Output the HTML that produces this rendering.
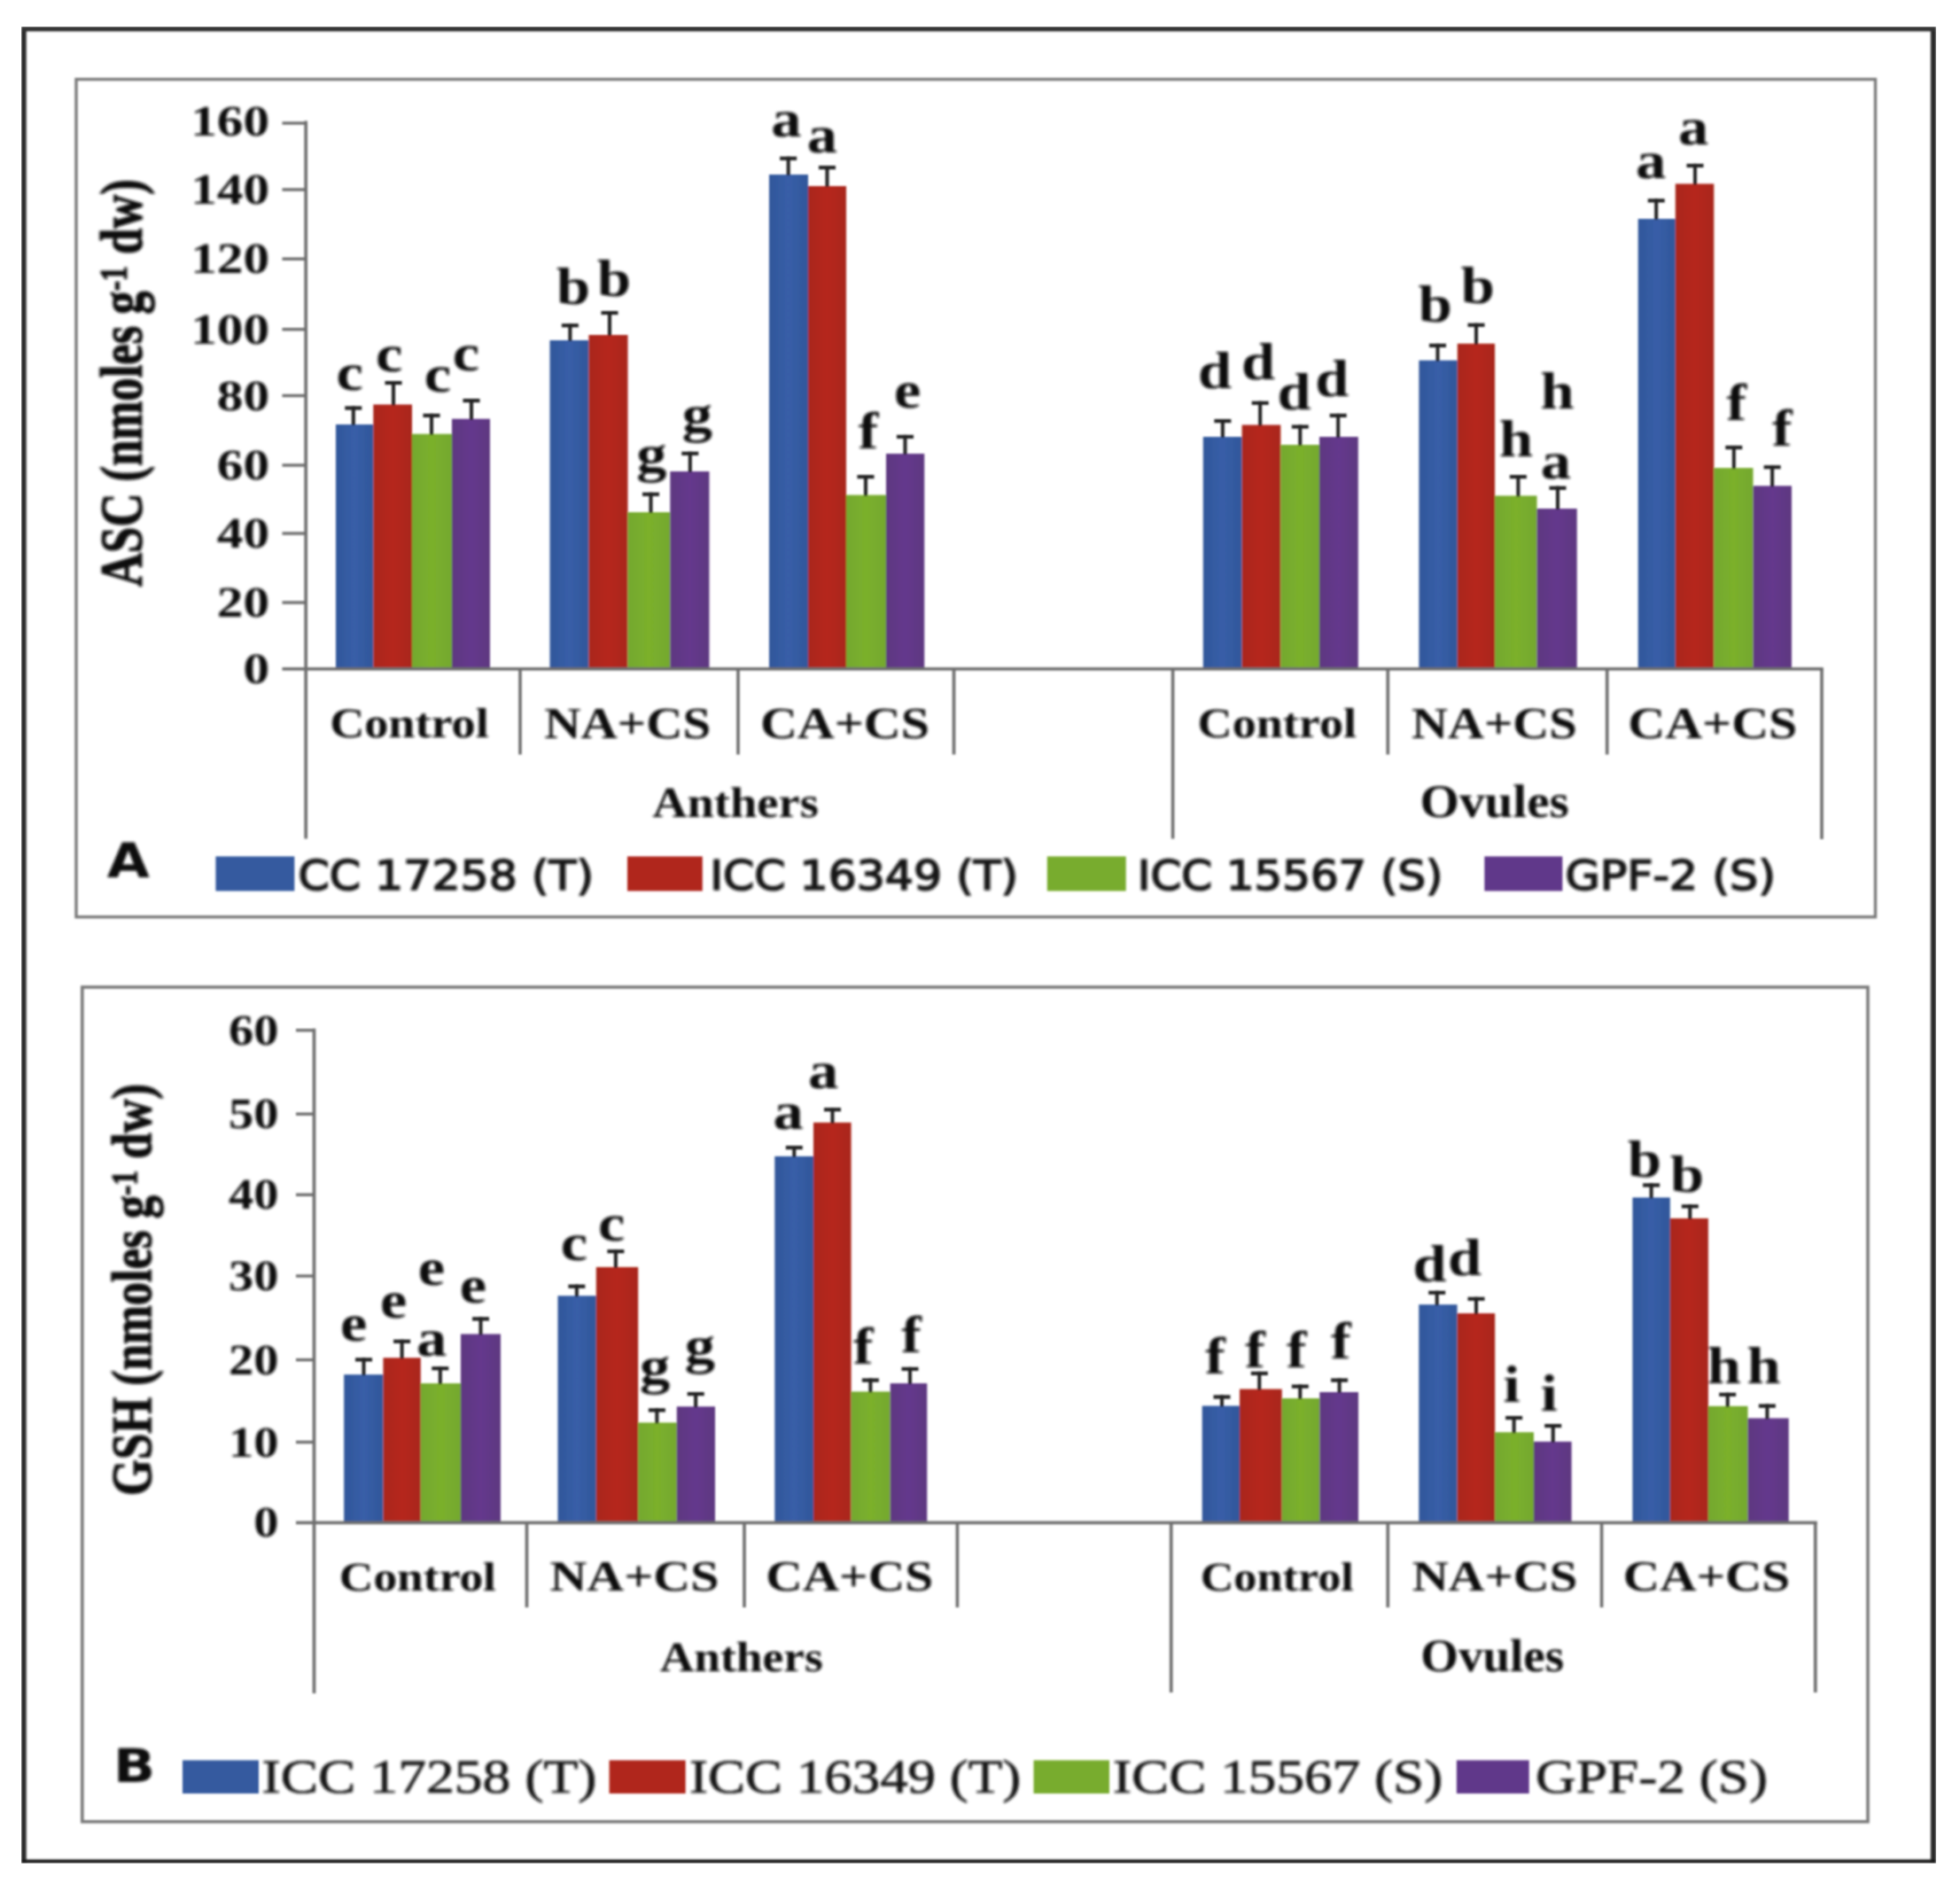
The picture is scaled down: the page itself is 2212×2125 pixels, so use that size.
<!DOCTYPE html>
<html lang="en"><head><meta charset="utf-8"><title>ASC and GSH in anthers and ovules</title>
<style>html,body{margin:0;padding:0;background:#fff}body{width:2212px;height:2125px;overflow:hidden}svg{display:block}</style>
</head><body>
<svg width="2212" height="2125" viewBox="0 0 2212 2125" text-rendering="geometricPrecision">
<defs>
<linearGradient id="gb" x1="0" x2="1" y1="0" y2="0"><stop offset="0" stop-color="#30579a"/><stop offset="0.5" stop-color="#385ea8"/><stop offset="1" stop-color="#30579a"/></linearGradient>
<linearGradient id="gr" x1="0" x2="1" y1="0" y2="0"><stop offset="0" stop-color="#a9271f"/><stop offset="0.5" stop-color="#b6251f"/><stop offset="1" stop-color="#a9271f"/></linearGradient>
<linearGradient id="gg" x1="0" x2="1" y1="0" y2="0"><stop offset="0" stop-color="#74a82f"/><stop offset="0.5" stop-color="#7bb02c"/><stop offset="1" stop-color="#74a82f"/></linearGradient>
<linearGradient id="gp" x1="0" x2="1" y1="0" y2="0"><stop offset="0" stop-color="#5d3780"/><stop offset="0.5" stop-color="#65398d"/><stop offset="1" stop-color="#5d3780"/></linearGradient>
<filter id="tsoft" x="0" y="0" width="2212" height="2125" filterUnits="userSpaceOnUse"><feGaussianBlur stdDeviation="0.9"/></filter>
<filter id="soft" x="0" y="0" width="2212" height="2125" filterUnits="userSpaceOnUse"><feGaussianBlur stdDeviation="1.3"/></filter>
</defs>
<rect x="0.00" y="0.00" width="2212.00" height="2125.00" fill="#ffffff"/>
<g filter="url(#soft)">
<rect x="24.00" y="30.00" width="5.70" height="2072.80" fill="#2c2c2c"/>
<rect x="2178.90" y="30.00" width="6.10" height="2072.80" fill="#2c2c2c"/>
<rect x="24.00" y="30.00" width="2161.00" height="5.40" fill="#333333"/>
<rect x="24.00" y="2098.40" width="2161.00" height="4.40" fill="#1e1e1e"/>
<rect x="86.00" y="89.50" width="2030.50" height="945.30" fill="none" stroke="#7a7a7a" stroke-width="3.4"/>
<rect x="92.80" y="1114.00" width="2015.20" height="941.80" fill="none" stroke="#7a7a7a" stroke-width="3.6"/>
<rect x="379.00" y="479.00" width="42.30" height="275.90" fill="url(#gb)"/>
<rect x="421.30" y="456.50" width="43.70" height="298.40" fill="url(#gr)"/>
<rect x="465.00" y="489.70" width="45.00" height="265.20" fill="url(#gg)"/>
<rect x="510.00" y="472.70" width="43.00" height="282.20" fill="url(#gp)"/>
<rect x="620.50" y="384.00" width="43.90" height="370.90" fill="url(#gb)"/>
<rect x="664.40" y="378.00" width="44.10" height="376.90" fill="url(#gr)"/>
<rect x="708.50" y="578.00" width="47.80" height="176.90" fill="url(#gg)"/>
<rect x="756.30" y="532.00" width="44.20" height="222.90" fill="url(#gp)"/>
<rect x="868.00" y="197.00" width="44.00" height="557.90" fill="url(#gb)"/>
<rect x="912.00" y="210.00" width="43.00" height="544.90" fill="url(#gr)"/>
<rect x="955.00" y="558.60" width="45.00" height="196.30" fill="url(#gg)"/>
<rect x="1000.00" y="512.00" width="43.20" height="242.90" fill="url(#gp)"/>
<rect x="1357.80" y="493.00" width="43.80" height="261.90" fill="url(#gb)"/>
<rect x="1401.60" y="479.50" width="43.70" height="275.40" fill="url(#gr)"/>
<rect x="1445.30" y="502.00" width="43.70" height="252.90" fill="url(#gg)"/>
<rect x="1489.00" y="493.00" width="43.80" height="261.90" fill="url(#gp)"/>
<rect x="1601.40" y="406.70" width="43.40" height="348.20" fill="url(#gb)"/>
<rect x="1644.80" y="387.80" width="42.30" height="367.10" fill="url(#gr)"/>
<rect x="1687.10" y="559.40" width="47.40" height="195.50" fill="url(#gg)"/>
<rect x="1734.50" y="574.00" width="45.20" height="180.90" fill="url(#gp)"/>
<rect x="1848.70" y="247.00" width="42.10" height="507.90" fill="url(#gb)"/>
<rect x="1890.80" y="207.40" width="43.50" height="547.50" fill="url(#gr)"/>
<rect x="1934.30" y="528.10" width="44.20" height="226.80" fill="url(#gg)"/>
<rect x="1978.50" y="548.30" width="43.50" height="206.60" fill="url(#gp)"/>
<rect x="396.80" y="458.40" width="4.00" height="21.60" fill="#222"/>
<rect x="389.30" y="458.40" width="19.00" height="4.20" fill="#222"/>
<rect x="442.00" y="430.00" width="4.00" height="27.50" fill="#222"/>
<rect x="434.50" y="430.00" width="19.00" height="4.20" fill="#222"/>
<rect x="485.00" y="466.80" width="4.00" height="23.90" fill="#222"/>
<rect x="477.50" y="466.80" width="19.00" height="4.20" fill="#222"/>
<rect x="530.00" y="450.00" width="4.00" height="23.70" fill="#222"/>
<rect x="522.50" y="450.00" width="19.00" height="4.20" fill="#222"/>
<rect x="641.40" y="365.20" width="4.00" height="19.80" fill="#222"/>
<rect x="633.90" y="365.20" width="19.00" height="4.20" fill="#222"/>
<rect x="686.00" y="351.00" width="4.00" height="28.00" fill="#222"/>
<rect x="678.50" y="351.00" width="19.00" height="4.20" fill="#222"/>
<rect x="732.50" y="555.70" width="4.00" height="23.30" fill="#222"/>
<rect x="725.00" y="555.70" width="19.00" height="4.20" fill="#222"/>
<rect x="776.80" y="509.70" width="4.00" height="23.30" fill="#222"/>
<rect x="769.30" y="509.70" width="19.00" height="4.20" fill="#222"/>
<rect x="887.70" y="176.70" width="4.00" height="21.30" fill="#222"/>
<rect x="880.20" y="176.70" width="19.00" height="4.20" fill="#222"/>
<rect x="931.50" y="187.00" width="4.00" height="24.00" fill="#222"/>
<rect x="924.00" y="187.00" width="19.00" height="4.20" fill="#222"/>
<rect x="975.00" y="536.00" width="4.00" height="23.60" fill="#222"/>
<rect x="967.50" y="536.00" width="19.00" height="4.20" fill="#222"/>
<rect x="1019.50" y="490.80" width="4.00" height="22.20" fill="#222"/>
<rect x="1012.00" y="490.80" width="19.00" height="4.20" fill="#222"/>
<rect x="1377.90" y="473.00" width="4.00" height="21.00" fill="#222"/>
<rect x="1370.40" y="473.00" width="19.00" height="4.20" fill="#222"/>
<rect x="1420.20" y="452.70" width="4.00" height="27.80" fill="#222"/>
<rect x="1412.70" y="452.70" width="19.00" height="4.20" fill="#222"/>
<rect x="1465.30" y="479.50" width="4.00" height="23.50" fill="#222"/>
<rect x="1457.80" y="479.50" width="19.00" height="4.20" fill="#222"/>
<rect x="1508.20" y="466.80" width="4.00" height="27.20" fill="#222"/>
<rect x="1500.70" y="466.80" width="19.00" height="4.20" fill="#222"/>
<rect x="1620.50" y="387.80" width="4.00" height="19.90" fill="#222"/>
<rect x="1613.00" y="387.80" width="19.00" height="4.20" fill="#222"/>
<rect x="1664.00" y="364.70" width="4.00" height="24.10" fill="#222"/>
<rect x="1656.50" y="364.70" width="19.00" height="4.20" fill="#222"/>
<rect x="1711.40" y="536.00" width="4.00" height="24.40" fill="#222"/>
<rect x="1703.90" y="536.00" width="19.00" height="4.20" fill="#222"/>
<rect x="1756.00" y="548.60" width="4.00" height="26.40" fill="#222"/>
<rect x="1748.50" y="548.60" width="19.00" height="4.20" fill="#222"/>
<rect x="1867.20" y="224.30" width="4.00" height="23.70" fill="#222"/>
<rect x="1859.70" y="224.30" width="19.00" height="4.20" fill="#222"/>
<rect x="1911.00" y="184.80" width="4.00" height="23.60" fill="#222"/>
<rect x="1903.50" y="184.80" width="19.00" height="4.20" fill="#222"/>
<rect x="1954.80" y="502.90" width="4.00" height="26.20" fill="#222"/>
<rect x="1947.30" y="502.90" width="19.00" height="4.20" fill="#222"/>
<rect x="1998.10" y="525.10" width="4.00" height="24.20" fill="#222"/>
<rect x="1990.60" y="525.10" width="19.00" height="4.20" fill="#222"/>
<rect x="343.40" y="136.40" width="3.60" height="810.10" fill="#6e6e6e"/>
<rect x="318.50" y="753.10" width="1739.30" height="3.60" fill="#6e6e6e"/>
<rect x="318.50" y="678.30" width="26.70" height="3.40" fill="#6e6e6e"/>
<rect x="318.50" y="600.30" width="26.70" height="3.40" fill="#6e6e6e"/>
<rect x="318.50" y="523.30" width="26.70" height="3.40" fill="#6e6e6e"/>
<rect x="318.50" y="444.80" width="26.70" height="3.40" fill="#6e6e6e"/>
<rect x="318.50" y="370.00" width="26.70" height="3.40" fill="#6e6e6e"/>
<rect x="318.50" y="290.50" width="26.70" height="3.40" fill="#6e6e6e"/>
<rect x="318.50" y="212.30" width="26.70" height="3.40" fill="#6e6e6e"/>
<rect x="318.50" y="137.30" width="26.70" height="3.40" fill="#6e6e6e"/>
<rect x="585.20" y="754.90" width="3.60" height="96.60" fill="#6e6e6e"/>
<rect x="831.20" y="754.90" width="3.60" height="96.60" fill="#6e6e6e"/>
<rect x="1074.70" y="754.90" width="3.60" height="96.60" fill="#6e6e6e"/>
<rect x="1321.80" y="754.90" width="3.60" height="191.60" fill="#6e6e6e"/>
<rect x="1564.50" y="754.90" width="3.60" height="96.60" fill="#6e6e6e"/>
<rect x="1811.90" y="754.90" width="3.60" height="96.60" fill="#6e6e6e"/>
<rect x="2054.20" y="754.90" width="3.60" height="192.10" fill="#6e6e6e"/>
<rect x="388.20" y="1551.20" width="44.30" height="167.20" fill="url(#gb)"/>
<rect x="432.50" y="1532.30" width="42.30" height="186.10" fill="url(#gr)"/>
<rect x="474.80" y="1561.10" width="45.20" height="157.30" fill="url(#gg)"/>
<rect x="520.00" y="1505.50" width="45.00" height="212.90" fill="url(#gp)"/>
<rect x="629.50" y="1462.30" width="43.30" height="256.10" fill="url(#gb)"/>
<rect x="672.80" y="1429.90" width="47.40" height="288.50" fill="url(#gr)"/>
<rect x="720.20" y="1605.40" width="43.60" height="113.00" fill="url(#gg)"/>
<rect x="763.80" y="1587.30" width="43.20" height="131.10" fill="url(#gp)"/>
<rect x="874.30" y="1304.90" width="43.70" height="413.50" fill="url(#gb)"/>
<rect x="918.00" y="1266.80" width="42.60" height="451.60" fill="url(#gr)"/>
<rect x="960.60" y="1570.40" width="44.10" height="148.00" fill="url(#gg)"/>
<rect x="1004.70" y="1561.10" width="41.60" height="157.30" fill="url(#gp)"/>
<rect x="1356.70" y="1586.50" width="42.30" height="131.90" fill="url(#gb)"/>
<rect x="1399.00" y="1567.60" width="47.70" height="150.80" fill="url(#gr)"/>
<rect x="1446.70" y="1578.00" width="42.60" height="140.40" fill="url(#gg)"/>
<rect x="1489.30" y="1571.00" width="43.70" height="147.40" fill="url(#gp)"/>
<rect x="1601.30" y="1472.20" width="43.30" height="246.20" fill="url(#gb)"/>
<rect x="1644.60" y="1482.10" width="42.60" height="236.30" fill="url(#gr)"/>
<rect x="1687.20" y="1616.30" width="43.80" height="102.10" fill="url(#gg)"/>
<rect x="1731.00" y="1626.90" width="42.60" height="91.50" fill="url(#gp)"/>
<rect x="1842.40" y="1351.40" width="42.40" height="367.00" fill="url(#gb)"/>
<rect x="1884.80" y="1374.90" width="43.10" height="343.50" fill="url(#gr)"/>
<rect x="1927.90" y="1586.80" width="44.60" height="131.60" fill="url(#gg)"/>
<rect x="1972.50" y="1600.50" width="46.20" height="117.90" fill="url(#gp)"/>
<rect x="408.50" y="1532.30" width="4.00" height="19.90" fill="#222"/>
<rect x="401.00" y="1532.30" width="19.00" height="4.20" fill="#222"/>
<rect x="451.60" y="1511.70" width="4.00" height="21.60" fill="#222"/>
<rect x="444.10" y="1511.70" width="19.00" height="4.20" fill="#222"/>
<rect x="494.80" y="1542.20" width="4.00" height="19.90" fill="#222"/>
<rect x="487.30" y="1542.20" width="19.00" height="4.20" fill="#222"/>
<rect x="540.50" y="1486.30" width="4.00" height="20.20" fill="#222"/>
<rect x="533.00" y="1486.30" width="19.00" height="4.20" fill="#222"/>
<rect x="648.90" y="1449.60" width="4.00" height="13.70" fill="#222"/>
<rect x="641.40" y="1449.60" width="19.00" height="4.20" fill="#222"/>
<rect x="692.90" y="1410.10" width="4.00" height="20.80" fill="#222"/>
<rect x="685.40" y="1410.10" width="19.00" height="4.20" fill="#222"/>
<rect x="739.40" y="1589.30" width="4.00" height="17.10" fill="#222"/>
<rect x="731.90" y="1589.30" width="19.00" height="4.20" fill="#222"/>
<rect x="783.20" y="1571.00" width="4.00" height="17.30" fill="#222"/>
<rect x="775.70" y="1571.00" width="19.00" height="4.20" fill="#222"/>
<rect x="894.30" y="1293.00" width="4.00" height="12.90" fill="#222"/>
<rect x="886.80" y="1293.00" width="19.00" height="4.20" fill="#222"/>
<rect x="937.50" y="1250.10" width="4.00" height="17.70" fill="#222"/>
<rect x="930.00" y="1250.10" width="19.00" height="4.20" fill="#222"/>
<rect x="980.40" y="1555.50" width="4.00" height="15.90" fill="#222"/>
<rect x="972.90" y="1555.50" width="19.00" height="4.20" fill="#222"/>
<rect x="1025.00" y="1542.80" width="4.00" height="19.30" fill="#222"/>
<rect x="1017.50" y="1542.80" width="19.00" height="4.20" fill="#222"/>
<rect x="1377.00" y="1574.40" width="4.00" height="13.10" fill="#222"/>
<rect x="1369.50" y="1574.40" width="19.00" height="4.20" fill="#222"/>
<rect x="1419.30" y="1547.80" width="4.00" height="20.80" fill="#222"/>
<rect x="1411.80" y="1547.80" width="19.00" height="4.20" fill="#222"/>
<rect x="1465.30" y="1562.50" width="4.00" height="16.50" fill="#222"/>
<rect x="1457.80" y="1562.50" width="19.00" height="4.20" fill="#222"/>
<rect x="1509.60" y="1555.50" width="4.00" height="16.50" fill="#222"/>
<rect x="1502.10" y="1555.50" width="19.00" height="4.20" fill="#222"/>
<rect x="1619.70" y="1456.70" width="4.00" height="16.50" fill="#222"/>
<rect x="1612.20" y="1456.70" width="19.00" height="4.20" fill="#222"/>
<rect x="1664.00" y="1463.70" width="4.00" height="19.40" fill="#222"/>
<rect x="1656.50" y="1463.70" width="19.00" height="4.20" fill="#222"/>
<rect x="1706.60" y="1598.00" width="4.00" height="19.30" fill="#222"/>
<rect x="1699.10" y="1598.00" width="19.00" height="4.20" fill="#222"/>
<rect x="1750.70" y="1607.00" width="4.00" height="20.90" fill="#222"/>
<rect x="1743.20" y="1607.00" width="19.00" height="4.20" fill="#222"/>
<rect x="1861.60" y="1335.40" width="4.00" height="17.00" fill="#222"/>
<rect x="1854.10" y="1335.40" width="19.00" height="4.20" fill="#222"/>
<rect x="1905.30" y="1359.30" width="4.00" height="16.60" fill="#222"/>
<rect x="1897.80" y="1359.30" width="19.00" height="4.20" fill="#222"/>
<rect x="1947.70" y="1571.70" width="4.00" height="16.10" fill="#222"/>
<rect x="1940.20" y="1571.70" width="19.00" height="4.20" fill="#222"/>
<rect x="1992.40" y="1584.50" width="4.00" height="17.00" fill="#222"/>
<rect x="1984.90" y="1584.50" width="19.00" height="4.20" fill="#222"/>
<rect x="352.70" y="1160.70" width="3.60" height="750.30" fill="#6e6e6e"/>
<rect x="334.00" y="1716.60" width="1716.80" height="3.60" fill="#6e6e6e"/>
<rect x="334.00" y="1625.80" width="20.50" height="3.40" fill="#6e6e6e"/>
<rect x="334.00" y="1532.90" width="20.50" height="3.40" fill="#6e6e6e"/>
<rect x="334.00" y="1438.30" width="20.50" height="3.40" fill="#6e6e6e"/>
<rect x="334.00" y="1346.60" width="20.50" height="3.40" fill="#6e6e6e"/>
<rect x="334.00" y="1255.50" width="20.50" height="3.40" fill="#6e6e6e"/>
<rect x="334.00" y="1161.00" width="20.50" height="3.40" fill="#6e6e6e"/>
<rect x="592.70" y="1718.40" width="3.60" height="95.60" fill="#6e6e6e"/>
<rect x="838.20" y="1718.40" width="3.60" height="95.60" fill="#6e6e6e"/>
<rect x="1078.60" y="1718.40" width="3.60" height="95.60" fill="#6e6e6e"/>
<rect x="1319.90" y="1718.40" width="3.60" height="191.60" fill="#6e6e6e"/>
<rect x="1564.50" y="1718.40" width="3.60" height="95.60" fill="#6e6e6e"/>
<rect x="1805.80" y="1718.40" width="3.60" height="95.60" fill="#6e6e6e"/>
<rect x="2047.00" y="1718.40" width="3.60" height="191.60" fill="#6e6e6e"/>
<rect x="243.40" y="966.50" width="88.90" height="39.00" fill="#345a9f"/>
<rect x="708.00" y="966.50" width="84.80" height="39.00" fill="#b0261f"/>
<rect x="1181.80" y="966.50" width="88.90" height="39.00" fill="#78ac2d"/>
<rect x="1675.30" y="966.50" width="88.00" height="39.00" fill="#61388a"/>
<rect x="206.00" y="1986.50" width="86.00" height="37.50" fill="#345a9f"/>
<rect x="687.60" y="1986.50" width="86.10" height="37.50" fill="#b0261f"/>
<rect x="1166.50" y="1986.50" width="85.50" height="37.50" fill="#78ac2d"/>
<rect x="1643.90" y="1986.50" width="81.80" height="37.50" fill="#61388a"/>
<g filter="url(#tsoft)">
<text transform="matrix(1.2100 0 0 1 274.43 770.85)" font-size="49" font-weight="bold" style="font-family:'Liberation Serif', serif" fill="#111">0</text>
<text transform="matrix(1.2100 0 0 1 244.79 696.05)" font-size="49" font-weight="bold" style="font-family:'Liberation Serif', serif" fill="#111">20</text>
<text transform="matrix(1.2100 0 0 1 244.79 618.05)" font-size="49" font-weight="bold" style="font-family:'Liberation Serif', serif" fill="#111">40</text>
<text transform="matrix(1.2100 0 0 1 244.79 541.05)" font-size="49" font-weight="bold" style="font-family:'Liberation Serif', serif" fill="#111">60</text>
<text transform="matrix(1.2100 0 0 1 244.79 462.55)" font-size="49" font-weight="bold" style="font-family:'Liberation Serif', serif" fill="#111">80</text>
<text transform="matrix(1.2100 0 0 1 215.14 387.75)" font-size="49" font-weight="bold" style="font-family:'Liberation Serif', serif" fill="#111">100</text>
<text transform="matrix(1.2100 0 0 1 215.14 308.25)" font-size="49" font-weight="bold" style="font-family:'Liberation Serif', serif" fill="#111">120</text>
<text transform="matrix(1.2100 0 0 1 215.14 230.05)" font-size="49" font-weight="bold" style="font-family:'Liberation Serif', serif" fill="#111">140</text>
<text transform="matrix(1.2100 0 0 1 215.14 152.85)" font-size="49" font-weight="bold" style="font-family:'Liberation Serif', serif" fill="#111">160</text>
<text transform="matrix(0.5416 0 0 0.4766 372.16 832.49)" font-size="100" font-weight="bold" style="font-family:'Liberation Serif', serif" fill="#111">Control</text>
<text transform="matrix(0.5710 0 0 0.5015 614.14 832.70)" font-size="100" font-weight="bold" style="font-family:'Liberation Serif', serif" fill="#111">NA+CS</text>
<text transform="matrix(0.5807 0 0 0.5015 857.89 832.70)" font-size="100" font-weight="bold" style="font-family:'Liberation Serif', serif" fill="#111">CA+CS</text>
<text transform="matrix(0.5413 0 0 0.4766 1351.56 832.49)" font-size="100" font-weight="bold" style="font-family:'Liberation Serif', serif" fill="#111">Control</text>
<text transform="matrix(0.5676 0 0 0.5015 1593.05 832.70)" font-size="100" font-weight="bold" style="font-family:'Liberation Serif', serif" fill="#111">NA+CS</text>
<text transform="matrix(0.5807 0 0 0.5015 1837.19 832.70)" font-size="100" font-weight="bold" style="font-family:'Liberation Serif', serif" fill="#111">CA+CS</text>
<text transform="matrix(0.5452 0 0 0.4872 736.13 922.32)" font-size="100" font-weight="bold" style="font-family:'Liberation Serif', serif" fill="#111">Anthers</text>
<text transform="matrix(0.5717 0 0 0.5286 1602.43 922.27)" font-size="100" font-weight="bold" style="font-family:'Liberation Serif', serif" fill="#111">Ovules</text>
<text transform="matrix(1.1600 0 0 1 379.60 439.82)" font-size="59" font-weight="bold" style="font-family:'Liberation Serif', serif" fill="#111">c</text>
<text transform="matrix(1.1600 0 0 1 424.10 418.87)" font-size="59" font-weight="bold" style="font-family:'Liberation Serif', serif" fill="#111">c</text>
<text transform="matrix(1.1600 0 0 1 478.65 442.07)" font-size="59" font-weight="bold" style="font-family:'Liberation Serif', serif" fill="#111">c</text>
<text transform="matrix(1.1600 0 0 1 510.85 418.37)" font-size="59" font-weight="bold" style="font-family:'Liberation Serif', serif" fill="#111">c</text>
<text transform="matrix(1.1600 0 0 1 628.11 342.76)" font-size="59" font-weight="bold" style="font-family:'Liberation Serif', serif" fill="#111">b</text>
<text transform="matrix(1.1600 0 0 1 674.06 333.66)" font-size="59" font-weight="bold" style="font-family:'Liberation Serif', serif" fill="#111">b</text>
<text transform="matrix(1.1600 0 0 1 718.16 531.95)" font-size="59" font-weight="bold" style="font-family:'Liberation Serif', serif" fill="#111">g</text>
<text transform="matrix(1.1600 0 0 1 769.66 486.80)" font-size="59" font-weight="bold" style="font-family:'Liberation Serif', serif" fill="#111">g</text>
<text transform="matrix(1.1600 0 0 1 870.18 154.47)" font-size="59" font-weight="bold" style="font-family:'Liberation Serif', serif" fill="#111">a</text>
<text transform="matrix(1.1600 0 0 1 910.78 172.07)" font-size="59" font-weight="bold" style="font-family:'Liberation Serif', serif" fill="#111">a</text>
<text transform="matrix(1.1600 0 0 1 968.62 506.35)" font-size="59" font-weight="bold" style="font-family:'Liberation Serif', serif" fill="#111">f</text>
<text transform="matrix(1.1600 0 0 1 1008.90 459.82)" font-size="59" font-weight="bold" style="font-family:'Liberation Serif', serif" fill="#111">e</text>
<text transform="matrix(1.1600 0 0 1 1351.98 437.51)" font-size="59" font-weight="bold" style="font-family:'Liberation Serif', serif" fill="#111">d</text>
<text transform="matrix(1.1600 0 0 1 1401.03 427.61)" font-size="59" font-weight="bold" style="font-family:'Liberation Serif', serif" fill="#111">d</text>
<text transform="matrix(1.1600 0 0 1 1441.53 461.51)" font-size="59" font-weight="bold" style="font-family:'Liberation Serif', serif" fill="#111">d</text>
<text transform="matrix(1.1600 0 0 1 1484.13 447.41)" font-size="59" font-weight="bold" style="font-family:'Liberation Serif', serif" fill="#111">d</text>
<text transform="matrix(1.1600 0 0 1 1600.76 363.31)" font-size="59" font-weight="bold" style="font-family:'Liberation Serif', serif" fill="#111">b</text>
<text transform="matrix(1.1600 0 0 1 1648.71 342.11)" font-size="59" font-weight="bold" style="font-family:'Liberation Serif', serif" fill="#111">b</text>
<text transform="matrix(1.1600 0 0 1 1738.52 460.96)" font-size="59" font-weight="bold" style="font-family:'Liberation Serif', serif" fill="#111">h</text>
<text transform="matrix(1.1600 0 0 1 1691.92 514.56)" font-size="59" font-weight="bold" style="font-family:'Liberation Serif', serif" fill="#111">h</text>
<text transform="matrix(1.1600 0 0 1 1738.78 540.17)" font-size="59" font-weight="bold" style="font-family:'Liberation Serif', serif" fill="#111">a</text>
<text transform="matrix(1.1600 0 0 1 1845.98 201.17)" font-size="59" font-weight="bold" style="font-family:'Liberation Serif', serif" fill="#111">a</text>
<text transform="matrix(1.1600 0 0 1 1893.88 162.87)" font-size="59" font-weight="bold" style="font-family:'Liberation Serif', serif" fill="#111">a</text>
<text transform="matrix(1.1600 0 0 1 1948.17 473.95)" font-size="59" font-weight="bold" style="font-family:'Liberation Serif', serif" fill="#111">f</text>
<text transform="matrix(1.1600 0 0 1 1999.67 503.20)" font-size="59" font-weight="bold" style="font-family:'Liberation Serif', serif" fill="#111">f</text>
<text transform="matrix(1.1500 0 0 1 286.30 1734.35)" font-size="49" font-weight="bold" style="font-family:'Liberation Serif', serif" fill="#111">0</text>
<text transform="matrix(1.1500 0 0 1 258.12 1643.55)" font-size="49" font-weight="bold" style="font-family:'Liberation Serif', serif" fill="#111">10</text>
<text transform="matrix(1.1500 0 0 1 258.12 1550.65)" font-size="49" font-weight="bold" style="font-family:'Liberation Serif', serif" fill="#111">20</text>
<text transform="matrix(1.1500 0 0 1 258.12 1456.05)" font-size="49" font-weight="bold" style="font-family:'Liberation Serif', serif" fill="#111">30</text>
<text transform="matrix(1.1500 0 0 1 258.12 1364.35)" font-size="49" font-weight="bold" style="font-family:'Liberation Serif', serif" fill="#111">40</text>
<text transform="matrix(1.1500 0 0 1 258.12 1273.25)" font-size="49" font-weight="bold" style="font-family:'Liberation Serif', serif" fill="#111">50</text>
<text transform="matrix(1.1500 0 0 1 258.12 1178.75)" font-size="49" font-weight="bold" style="font-family:'Liberation Serif', serif" fill="#111">60</text>
<text transform="matrix(0.5345 0 0 0.4610 382.79 1795.01)" font-size="100" font-weight="bold" style="font-family:'Liberation Serif', serif" fill="#111">Control</text>
<text transform="matrix(0.5800 0 0 0.4851 620.43 1795.21)" font-size="100" font-weight="bold" style="font-family:'Liberation Serif', serif" fill="#111">NA+CS</text>
<text transform="matrix(0.5739 0 0 0.4851 864.22 1795.21)" font-size="100" font-weight="bold" style="font-family:'Liberation Serif', serif" fill="#111">CA+CS</text>
<text transform="matrix(0.5222 0 0 0.4610 1354.65 1795.01)" font-size="100" font-weight="bold" style="font-family:'Liberation Serif', serif" fill="#111">Control</text>
<text transform="matrix(0.5670 0 0 0.4851 1593.65 1795.21)" font-size="100" font-weight="bold" style="font-family:'Liberation Serif', serif" fill="#111">NA+CS</text>
<text transform="matrix(0.5720 0 0 0.4851 1831.83 1795.21)" font-size="100" font-weight="bold" style="font-family:'Liberation Serif', serif" fill="#111">CA+CS</text>
<text transform="matrix(0.5347 0 0 0.4787 744.63 1885.93)" font-size="100" font-weight="bold" style="font-family:'Liberation Serif', serif" fill="#111">Anthers</text>
<text transform="matrix(0.5494 0 0 0.5257 1603.33 1885.87)" font-size="100" font-weight="bold" style="font-family:'Liberation Serif', serif" fill="#111">Ovules</text>
<text transform="matrix(1.1600 0 0 1 383.90 1512.57)" font-size="59" font-weight="bold" style="font-family:'Liberation Serif', serif" fill="#111">e</text>
<text transform="matrix(1.1600 0 0 1 429.05 1487.17)" font-size="59" font-weight="bold" style="font-family:'Liberation Serif', serif" fill="#111">e</text>
<text transform="matrix(1.1600 0 0 1 471.65 1450.47)" font-size="59" font-weight="bold" style="font-family:'Liberation Serif', serif" fill="#111">e</text>
<text transform="matrix(1.1600 0 0 1 469.88 1530.17)" font-size="59" font-weight="bold" style="font-family:'Liberation Serif', serif" fill="#111">a</text>
<text transform="matrix(1.1600 0 0 1 518.65 1470.27)" font-size="59" font-weight="bold" style="font-family:'Liberation Serif', serif" fill="#111">e</text>
<text transform="matrix(1.1600 0 0 1 632.80 1422.27)" font-size="59" font-weight="bold" style="font-family:'Liberation Serif', serif" fill="#111">c</text>
<text transform="matrix(1.1600 0 0 1 675.10 1399.72)" font-size="59" font-weight="bold" style="font-family:'Liberation Serif', serif" fill="#111">c</text>
<text transform="matrix(1.1600 0 0 1 722.11 1560.65)" font-size="59" font-weight="bold" style="font-family:'Liberation Serif', serif" fill="#111">g</text>
<text transform="matrix(1.1600 0 0 1 772.86 1538.05)" font-size="59" font-weight="bold" style="font-family:'Liberation Serif', serif" fill="#111">g</text>
<text transform="matrix(1.1600 0 0 1 872.48 1274.17)" font-size="59" font-weight="bold" style="font-family:'Liberation Serif', serif" fill="#111">a</text>
<text transform="matrix(1.1600 0 0 1 911.98 1228.32)" font-size="59" font-weight="bold" style="font-family:'Liberation Serif', serif" fill="#111">a</text>
<text transform="matrix(1.1600 0 0 1 962.82 1539.00)" font-size="59" font-weight="bold" style="font-family:'Liberation Serif', serif" fill="#111">f</text>
<text transform="matrix(1.1600 0 0 1 1017.12 1526.10)" font-size="59" font-weight="bold" style="font-family:'Liberation Serif', serif" fill="#111">f</text>
<text transform="matrix(1.1600 0 0 1 1359.92 1549.60)" font-size="59" font-weight="bold" style="font-family:'Liberation Serif', serif" fill="#111">f</text>
<text transform="matrix(1.1600 0 0 1 1405.12 1542.80)" font-size="59" font-weight="bold" style="font-family:'Liberation Serif', serif" fill="#111">f</text>
<text transform="matrix(1.1600 0 0 1 1451.67 1542.80)" font-size="59" font-weight="bold" style="font-family:'Liberation Serif', serif" fill="#111">f</text>
<text transform="matrix(1.1600 0 0 1 1501.82 1532.95)" font-size="59" font-weight="bold" style="font-family:'Liberation Serif', serif" fill="#111">f</text>
<text transform="matrix(1.1600 0 0 1 1594.58 1445.71)" font-size="59" font-weight="bold" style="font-family:'Liberation Serif', serif" fill="#111">d</text>
<text transform="matrix(1.1600 0 0 1 1634.08 1438.66)" font-size="59" font-weight="bold" style="font-family:'Liberation Serif', serif" fill="#111">d</text>
<text transform="matrix(1.1600 0 0 1 1696.40 1582.41)" font-size="59" font-weight="bold" style="font-family:'Liberation Serif', serif" fill="#111">i</text>
<text transform="matrix(1.1600 0 0 1 1738.85 1592.21)" font-size="59" font-weight="bold" style="font-family:'Liberation Serif', serif" fill="#111">i</text>
<text transform="matrix(1.1600 0 0 1 1836.96 1327.76)" font-size="59" font-weight="bold" style="font-family:'Liberation Serif', serif" fill="#111">b</text>
<text transform="matrix(1.1600 0 0 1 1884.91 1344.66)" font-size="59" font-weight="bold" style="font-family:'Liberation Serif', serif" fill="#111">b</text>
<text transform="matrix(1.1600 0 0 1 1926.82 1560.61)" font-size="59" font-weight="bold" style="font-family:'Liberation Serif', serif" fill="#111">h</text>
<text transform="matrix(1.1600 0 0 1 1971.47 1560.61)" font-size="59" font-weight="bold" style="font-family:'Liberation Serif', serif" fill="#111">h</text>
<g transform="translate(160.00 661.96) rotate(-90) scale(0.5267 0.6737)" font-weight="bold" style="font-family:'Liberation Serif', serif" fill="#111" stroke="#111" stroke-width="2">
<text x="0" y="0" font-size="100">ASC (nmoles g</text>
<text x="633.35" y="-25" font-size="64">-1</text>
<text x="711.66" y="0" font-size="100">dw)</text>
</g>
<g transform="translate(170.50 1687.97) rotate(-90) scale(0.5259 0.6405)" font-weight="bold" style="font-family:'Liberation Serif', serif" fill="#111" stroke="#111" stroke-width="2">
<text x="0" y="0" font-size="100">GSH (nmoles g</text>
<text x="644.48" y="-25" font-size="64">-1</text>
<text x="722.79" y="0" font-size="100">dw)</text>
</g>
<text transform="matrix(0.5051 0 0 0.4630 336.52 1003.80)" font-size="100" font-weight="normal" style="font-family:'DejaVu Sans', 'Liberation Sans', sans-serif" fill="#161616" stroke="#161616" stroke-width="3.6">CC 17258 (T)</text>
<text transform="matrix(0.5045 0 0 0.4630 801.21 1003.80)" font-size="100" font-weight="normal" style="font-family:'DejaVu Sans', 'Liberation Sans', sans-serif" fill="#161616" stroke="#161616" stroke-width="3.6">ICC 16349 (T)</text>
<text transform="matrix(0.4980 0 0 0.4630 1283.77 1003.80)" font-size="100" font-weight="normal" style="font-family:'DejaVu Sans', 'Liberation Sans', sans-serif" fill="#161616" stroke="#161616" stroke-width="3.6">ICC 15567 (S)</text>
<text transform="matrix(0.5076 0 0 0.4630 1766.41 1003.80)" font-size="100" font-weight="normal" style="font-family:'DejaVu Sans', 'Liberation Sans', sans-serif" fill="#161616" stroke="#161616" stroke-width="3.6">GPF-2 (S)</text>
<text transform="matrix(0.6359 0 0 0.5374 295.47 2022.70)" font-size="100" font-weight="normal" style="font-family:'Liberation Serif', serif" fill="#161616" stroke="#161616" stroke-width="1.3">ICC 17258 (T)</text>
<text transform="matrix(0.6296 0 0 0.5374 778.00 2022.70)" font-size="100" font-weight="normal" style="font-family:'Liberation Serif', serif" fill="#161616" stroke="#161616" stroke-width="1.3">ICC 16349 (T)</text>
<text transform="matrix(0.6322 0 0 0.5374 1255.99 2022.70)" font-size="100" font-weight="normal" style="font-family:'Liberation Serif', serif" fill="#161616" stroke="#161616" stroke-width="1.3">ICC 15567 (S)</text>
<text transform="matrix(0.6330 0 0 0.5374 1733.07 2022.70)" font-size="100" font-weight="normal" style="font-family:'Liberation Serif', serif" fill="#161616" stroke="#161616" stroke-width="1.3">GPF-2 (S)</text>
<text transform="matrix(0.6221 0 0 0.5411 120.70 990.30)" font-size="100" font-weight="bold" style="font-family:'DejaVu Sans', 'Liberation Sans', sans-serif" fill="#111">A</text>
<text transform="matrix(0.6198 0 0 0.5233 127.92 2011.40)" font-size="100" font-weight="bold" style="font-family:'DejaVu Sans', 'Liberation Sans', sans-serif" fill="#111">B</text>
</g>
</g>
<rect x="0" y="0" width="24.0" height="2125.0" fill="#ffffff"/>
<rect x="2185" y="0" width="27.0" height="2125.0" fill="#ffffff"/>
<rect x="0" y="0" width="2212.0" height="30.0" fill="#ffffff"/>
<rect x="0" y="2102.8" width="2212.0" height="22.2" fill="#ffffff"/>
</svg>
</body></html>
